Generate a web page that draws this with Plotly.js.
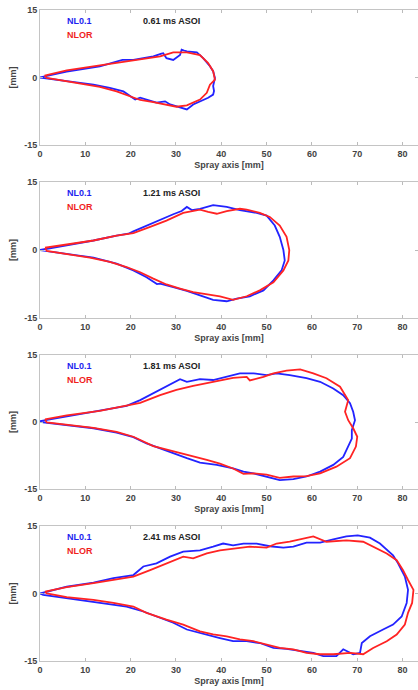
<!DOCTYPE html>
<html><head><meta charset="utf-8">
<script src="https://cdn.plot.ly/plotly-3.0.1.min.js"></script>
<style>html,body{margin:0;padding:0;background:#fff}#c{width:418px;height:690px}</style>
</head><body><div id="c"></div>
<script>
// Panel labels
const times = ["0.61 ms ASOI", "1.21 ms ASOI", "1.81 ms ASOI", "2.41 ms ASOI"];
const seriesNames = ["NL0.1", "NLOR"];
const xTicks = [0,10,20,30,40,50,60,70,80];
const yTicks = [-15,0,15];

// Panel 1 (0.61 ms)
const p1BlueX = [0,5.9,13.2,17.6,18.2,20.6,25,26.8,27.2,27.9,29.4,30.9,31.25,31.8,32.4,34.6,36,37.5,38.2,38.6,38.2,38.4,38.2,37.1,35.3,33.8,32.4,30.9,28.7,27.6,25.7,23.5,22.1,21,19.9,18.4,15.4,11.8,5.9,1.5,0];
const p1BlueY = [0,1.3,2.5,3.6,3.9,3.9,4.7,5.3,5.4,4.3,3.9,5.0,6.2,6.0,5.8,5.6,4.3,2.5,1.4,-0.1,-1.9,-3.0,-3.8,-4.5,-5.3,-6.0,-7.1,-6.7,-6.0,-5.3,-5.6,-4.9,-4.5,-4.9,-4.2,-3.1,-2.3,-1.6,-0.8,-0.3,0];
const p1RedX = [1,5.9,13.2,17.6,22,26.5,29.4,32.4,35.3,37.1,38.2,38.6,37.5,36.8,35.3,33.8,32.4,30.1,27.9,25,22.1,19.9,16.9,13.2,5.9,1.5,1];
const p1RedY = [0.4,1.6,2.7,3.4,4.1,4.7,5.6,5.6,5.0,3.2,1.4,-0.5,-1.6,-3.4,-4.9,-5.6,-6.2,-6.5,-6.0,-5.5,-5.0,-4.2,-3.1,-2.1,-0.8,-0.1,0.4];

// Panel 2 (1.21 ms)
const p2BlueX = [0,5.9,11.8,16.9,19.5,20.6,23.5,26.5,29.4,31.25,32.4,33.5,35.3,38.2,41.2,44.1,47.8,50,51.8,52.9,53.7,54,53.3,51.5,49.3,46.3,43.4,41.2,38.2,35.3,32.4,29.4,26.5,25.8,23.5,20.6,16.9,11.8,5.9,0];
const p2BlueY = [0,1.0,2.1,3.2,3.6,4.1,5.4,6.7,7.9,8.6,9.5,8.8,9.1,9.9,9.5,8.8,8.2,7.6,5.4,2.9,0,-2.3,-4.5,-6.7,-8.9,-10.2,-10.7,-11.3,-11.0,-10.0,-9.0,-8.2,-7.4,-7.5,-6.0,-4.5,-3.0,-1.7,-0.8,0];
const p2RedX = [1.1,5.9,11.8,16.9,20.6,24.3,27.9,31.6,35.3,37.1,39,41.2,44.1,45.6,48.5,50.7,52.9,54.4,55,54.8,53.7,51.5,48.5,45.6,42.6,39.7,36.8,33.8,30.9,27.9,25,22.1,19.1,15.4,11,5.9,1.5,1.1];
const p2RedY = [0.5,1.25,2.1,3.2,3.75,5.1,6.5,8.2,8.9,8.4,8.0,8.6,9.1,8.9,8.2,7.3,5.4,2.9,0,-2.3,-4.5,-7.1,-8.9,-10.2,-11.0,-10.2,-9.8,-9.3,-8.5,-7.6,-6.3,-4.9,-3.75,-2.6,-1.7,-0.95,-0.2,0.5];

// Panel 3 (1.81 ms)
const p3BlueX = [0,5.9,13.2,19.1,22.1,25,27.9,30.9,32.4,35.3,38.2,41.2,44.1,47.1,50,52.2,55.1,58.8,61.8,64.7,66.9,68.4,69.1,69.5,68.8,68.8,68,66.9,64.7,61.8,58.8,55.9,52.9,50,47.1,44.9,42.6,39,35.3,32.4,29.4,26.5,23.5,20.6,16.9,11.8,5.9,0.7,0];
const p3BlueY = [0.2,1.3,2.5,3.6,4.9,6.4,7.9,9.6,9.0,9.6,9.4,10.1,10.9,10.9,10.5,10.9,10.5,9.8,9.0,7.5,6.0,4.2,2.3,0.4,-1.8,-3.7,-5.5,-7.8,-9.6,-11.1,-12.2,-12.8,-13.0,-12.2,-11.5,-11.1,-10.4,-9.6,-9.1,-8.1,-7.0,-5.9,-4.8,-3.4,-2.4,-1.4,-0.7,-0.1,0.2];
const p3RedX = [1.1,5.9,13.2,19.1,22.1,26.5,30.1,33.8,38.2,42.6,45.6,46.3,49.3,51.5,54.4,57.4,60.3,63.2,66.2,68,67.3,68,69.1,70,69.7,68.4,65.4,61.8,58.8,55.9,52.9,50,47.1,44.9,42.6,39.7,36.8,32.4,29.4,25,20.6,16.9,11.8,5.9,1.5,1.1];
const p3RedY = [0.6,1.5,2.5,3.6,4.3,6.0,7.2,8.1,9.0,9.9,10.1,9.3,10.1,10.9,11.5,11.8,10.9,9.8,7.9,4.9,2.3,0.4,-1.4,-3.3,-5.5,-8.1,-10.0,-11.5,-12.1,-12.2,-12.5,-11.8,-11.5,-11.6,-10.4,-9.3,-8.5,-7.4,-6.6,-5.4,-3.3,-2.2,-1.3,-0.6,-0.1,0.6];

// Panel 4 (2.41 ms)
const p4BlueX = [0,5.9,11.8,16.2,20.6,22.8,25.7,28.7,31.6,35.3,38.2,40.4,42.6,44.9,47.8,50.7,53.7,55.9,58.8,61.8,64.7,67.6,70.1,72.8,75,77.9,79,80.5,81.2,80.9,79.8,77.9,75.7,72.8,71,70.6,69.1,66.9,65.4,62.5,60.3,57.4,54.4,51.5,48.5,45.6,42.6,39.7,36.8,32.4,29.4,26.5,22.8,19.1,13.2,5.9,0.7,0];
const p4BlueY = [0,1.5,2.4,3.4,4.1,6.0,6.7,8.2,9.3,9.6,10.4,11.1,10.7,11.1,11.1,10.5,10.2,10.4,11.3,11.3,12.0,12.7,12.9,12.4,11.1,8.5,6.7,3.75,0.8,-2.1,-5.1,-6.9,-8.0,-9.5,-11.0,-13.2,-13.5,-12.4,-13.9,-13.9,-13.2,-12.8,-12.3,-12.1,-11.0,-10.6,-10.6,-9.9,-9.1,-8.0,-6.5,-5.4,-4.0,-2.9,-2.1,-1.0,-0.3,0];
const p4RedX = [1.1,5.9,11.8,16.2,20.6,24.3,27.9,31.6,33.8,36.8,39.7,42.6,46.3,50,52.2,55.1,58.1,60.3,63.2,67.6,71.3,74.3,76.5,78.7,80.1,81.2,82.4,82.1,81.2,80.5,78.7,76.5,73.5,71.3,68.4,64.7,61.8,58.8,55.9,52.9,50,47.1,44.1,41.2,38.2,35.3,31.6,27.9,23.5,20.6,16.2,11.8,5.9,1.5,1.1];
const p4RedY = [0.4,1.4,2.3,3.0,3.75,5.2,6.7,8.2,7.8,8.9,9.6,10.0,10.4,10.2,11.1,11.5,12.2,12.7,11.5,11.8,11.5,10.0,8.9,7.4,5.2,3.0,0.8,-2.1,-4.3,-6.9,-9.1,-10.6,-12.1,-13.5,-13.2,-13.5,-13.5,-13.2,-12.4,-12.1,-11.3,-10.6,-10.2,-9.5,-9.1,-8.4,-6.9,-5.8,-4.3,-2.9,-2.1,-1.4,-0.8,0,0.4];

const blueX = [p1BlueX,p2BlueX,p3BlueX,p4BlueX];
const blueY = [p1BlueY,p2BlueY,p3BlueY,p4BlueY];
const redX = [p1RedX,p2RedX,p3RedX,p4RedX];
const redY = [p1RedY,p2RedY,p3RedY,p4RedY];

const BLUE = 'rgb(35,35,255)', RED = 'rgb(255,35,35)';
const domains = [[0.7899,0.9855],[0.5391,0.7362],[0.2913,0.4855],[0.0420,0.2377]];
const data = [];
const layout = {
  width:418, height:690, showlegend:false,
  margin:{l:40,r:0,t:0,b:0},
  paper_bgcolor:'#fff', plot_bgcolor:'#fff',
  font:{family:'Liberation Sans, Arial, sans-serif', size:9, color:'#444'},
  annotations:[]
};
for (let i=0;i<4;i++){
  const s = i===0?'':String(i+1);
  data.push({x:blueX[i], y:blueY[i], xaxis:'x'+s, yaxis:'y'+s, type:'scatter', mode:'lines', name:seriesNames[0], line:{color:BLUE,width:1.8}});
  data.push({x:redX[i], y:redY[i], xaxis:'x'+s, yaxis:'y'+s, type:'scatter', mode:'lines', name:seriesNames[1], line:{color:RED,width:1.8}});
  layout['xaxis'+s] = {domain:[0,1], anchor:'y'+s, range:[0,83.4], tickvals:xTicks, ticktext:xTicks.map(v=>'<b>'+v+'</b>'),
    ticks:'inside', ticklen:3, tickcolor:'#bbb', showline:true, linecolor:'#c4c4c4', linewidth:1, mirror:'ticks',
    showgrid:false, zeroline:false, tickfont:{size:9,color:'#444'}, fixedrange:true,
    title:{text:'<b>Spray axis [mm]</b>', font:{size:9,color:'#444'}, standoff:3}};
  layout['yaxis'+s] = {domain:domains[i], anchor:'x'+s, range:[-15,15], tickvals:yTicks, ticktext:yTicks.map(v=>'<b>'+v+'</b>'),
    ticks:'inside', ticklen:3, tickcolor:'#bbb', showline:true, linecolor:'#c4c4c4', linewidth:1, mirror:'ticks',
    showgrid:false, zeroline:false, tickfont:{size:9,color:'#444'}, fixedrange:true,
    title:{text:'<b>[mm]</b>', font:{size:9,color:'#444'}, standoff:6}};
  layout.annotations.push({xref:'x'+s, yref:'y'+s, x:5.5, y:12.6, xanchor:'left', yanchor:'middle', showarrow:false, text:'<b>'+seriesNames[0]+'</b>', font:{size:9,color:'rgb(30,30,240)'}});
  layout.annotations.push({xref:'x'+s, yref:'y'+s, x:5.5, y:9.5, xanchor:'left', yanchor:'middle', showarrow:false, text:'<b>'+seriesNames[1]+'</b>', font:{size:9,color:'rgb(240,30,30)'}});
  layout.annotations.push({xref:'x'+s, yref:'y'+s, x:22.2, y:12.6, xanchor:'left', yanchor:'middle', showarrow:false, text:'<b>'+times[i]+'</b>', font:{size:9,color:'#222'}});
}
Plotly.newPlot('c', data, layout, {displayModeBar:false, staticPlot:true});
</script></body></html>
